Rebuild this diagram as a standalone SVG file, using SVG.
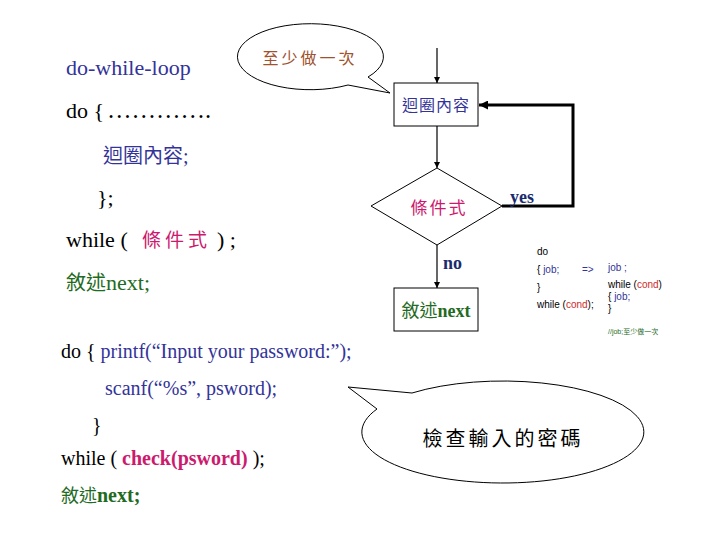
<svg xmlns="http://www.w3.org/2000/svg" width="720" height="540" viewBox="0 0 720 540">
<style>
.serif{font-family:"Liberation Serif","Noto Sans CJK TC",serif}
.cjk{font-family:"Noto Sans CJK TC","Liberation Serif",serif}
.sans{font-family:"Liberation Sans","Noto Sans CJK TC",sans-serif}
.blue{fill:#333399}
.blk{fill:#000}
.mag{fill:#cc1a6e}
.grn{fill:#1f6b1f}
.brn{fill:#a0522d}
.red{fill:#cc2b2b}
.nav{fill:#1a2a6e}
.box{fill:#fff;stroke:#000;stroke-width:1}
.bubble{fill:#fff;stroke:#000;stroke-width:1}
.ln{stroke:#000;stroke-width:1.2;fill:none}
.thick{stroke:#000;stroke-width:3;fill:none}
</style>
<defs>
<marker id="ah" viewBox="0 0 10 10" refX="10" refY="5" markerWidth="6" markerHeight="6" orient="auto" markerUnits="userSpaceOnUse">
<path d="M0,0 L10,5 L0,10 Z" fill="#000"/>
</marker>
<marker id="ahb" viewBox="0 0 10 10" refX="10" refY="5" markerWidth="9" markerHeight="9" orient="auto" markerUnits="userSpaceOnUse">
<path d="M0,0 L10,5 L0,10 Z" fill="#000"/>
</marker>
</defs>
<rect width="720" height="540" fill="#fff"/>

<g id="code-top">
<text class="serif blue" x="66" y="75" font-size="22">do-while-loop</text>
<text class="serif blk" x="66" y="118" font-size="22">do { <tspan x="107" font-size="24.5">………….</tspan></text>
<text class="cjk blue" x="103" y="163" font-size="20">迴圈內容<tspan class="serif">;</tspan></text>
<text class="serif blk" x="97" y="205" font-size="22">};</text>
<text class="serif blk" x="66" y="247" font-size="22">while (</text>
<text class="cjk mag" x="142" y="247" font-size="19" letter-spacing="4">條件式</text>
<text class="serif blk" x="217" y="247" font-size="22">) ;</text>
<text class="cjk grn" x="66" y="290" font-size="20">敘述<tspan class="serif" font-size="22">next;</tspan></text>
</g>

<g id="callout-top">
<path class="bubble" d="M368,77 L390,93 L348,85 A73,33 0 1 1 368,77 Z"/>
<text class="cjk brn" x="310" y="64" font-size="16" letter-spacing="3" text-anchor="middle">至少做一次</text>
</g>

<g id="connectors">
<line class="ln" x1="437" y1="48" x2="437" y2="83" marker-end="url(#ah)"/>
<line class="ln" x1="437" y1="126" x2="437" y2="168" marker-end="url(#ah)"/>
<line class="ln" x1="437" y1="245" x2="437" y2="288" marker-end="url(#ah)"/>
<polyline class="thick" points="502,206 573,206 573,105 479,105" marker-end="url(#ahb)"/>
<text class="serif nav" x="510" y="203" font-size="18" font-weight="bold">yes</text>
<text class="serif nav" x="443" y="269" font-size="18" font-weight="bold">no</text>
</g>

<g id="node-body">
<rect class="box" x="394" y="83" width="84" height="43"/>
<text class="cjk blue" x="436" y="111" font-size="16" letter-spacing="1" text-anchor="middle">迴圈內容</text>
</g>

<g id="node-cond">
<polygon class="box" points="437,168 502,206 437,245 371,206"/>
<text class="cjk mag" x="439" y="214" font-size="17" letter-spacing="2" text-anchor="middle">條件式</text>
</g>

<g id="node-next">
<rect class="box" x="394" y="288" width="84" height="43"/>
<text class="cjk grn" x="436" y="317" font-size="18" text-anchor="middle">敘述<tspan class="serif" font-weight="bold">next</tspan></text>
</g>

<g id="note-right" font-size="10">
<text class="sans blk" x="537" y="255">do</text>
<text class="sans blk" x="537" y="273">{ <tspan class="blue">job;</tspan></text>
<text class="sans blue" x="582" y="273">=&gt;</text>
<text class="sans blk" x="537" y="291">}</text>
<text class="sans blk" x="537" y="308">while (<tspan class="red">cond</tspan>);</text>
<text class="sans blue" x="608" y="271">job ;</text>
<text class="sans blk" x="608" y="288">while (<tspan class="red">cond</tspan>)</text>
<text class="sans blk" x="608" y="300">{ <tspan class="blue">job;</tspan></text>
<text class="sans blk" x="608" y="312">}</text>
<text class="sans grn" x="608" y="334" font-size="7">//job;至少做一次</text>
</g>

<g id="code-bottom" font-size="20">
<text class="serif blk" x="61" y="358">do { <tspan class="blue">printf(“Input your password:”);</tspan></text>
<text class="serif blue" x="105" y="395">scanf(“%s”, psword);</text>
<text class="serif blk" x="92" y="432">}</text>
<text class="serif blk" x="61" y="465">while ( <tspan class="mag" font-weight="bold">check(psword)</tspan> );</text>
<text class="cjk grn" x="61" y="502" font-size="18">敘述<tspan class="serif" font-size="20" font-weight="bold">next;</tspan></text>
</g>

<g id="callout-bottom">
<path class="bubble" d="M412,393 L348,387 L377,409 A141,51 0 1 0 412,393 Z"/>
<text class="cjk blk" x="503" y="446" font-size="20" letter-spacing="3" text-anchor="middle">檢查輸入的密碼</text>
</g>
</svg>
